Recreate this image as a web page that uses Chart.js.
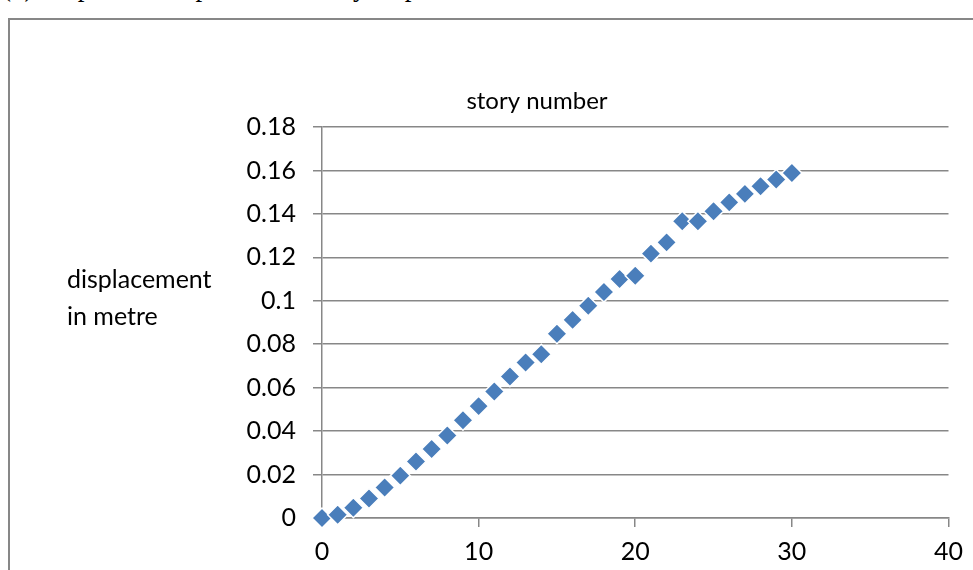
<!DOCTYPE html>
<html>
<head>
<meta charset="utf-8">
<script src="https://cdn.jsdelivr.net/npm/chart.js@4"></script>
<style>
  html, body { margin: 0; padding: 0; background: #fff; overflow: hidden; }
  body { width: 973px; height: 570px; position: relative; }
  #caption {
    position: absolute; left: 2px; top: -28px; white-space: nowrap;
    font-family: "Liberation Serif", "Times New Roman", serif; font-size: 27px; color: #000;
  }
  #frame {
    position: absolute; left: 8px; top: 18px; width: 1200px; height: 800px;
    border: 2px solid #878787; box-sizing: border-box;
  }
  #wrap { position: absolute; left: 0; top: 0; width: 973px; height: 570px; }
</style>
</head>
<body>
<div id="caption">(b) Displacement profile for story displacement</div>
<div id="frame"></div>
<div id="wrap"><canvas id="chart" width="973" height="570"></canvas></div>
<script>
// story number (x) and lateral displacement in metres (y)
const storyNumbers = [0, 1, 2, 3, 4, 5, 6, 7, 8, 9, 10, 11, 12, 13, 14, 15,
                      16, 17, 18, 19, 20, 21, 22, 23, 24, 25, 26, 27, 28, 29, 30];
const displacements = [0, 0.0015, 0.0047, 0.009, 0.014, 0.0195, 0.026, 0.0318, 0.038, 0.045, 0.0515,
                       0.0582, 0.0651, 0.0716, 0.0754, 0.0848, 0.0912, 0.0977, 0.104, 0.110, 0.1115,
                       0.1217, 0.1269, 0.1366, 0.1366, 0.1412, 0.1453, 0.1492, 0.1527, 0.1558, 0.1588];
const xTicks = [0, 10, 20, 30, 40];
const yTicks = [0, 0.02, 0.04, 0.06, 0.08, 0.1, 0.12, 0.14, 0.16, 0.18];

const chartTitle = 'story number';
const yAxisTitle = ['displacement', 'in metre'];

const FONT = 'Lato, "Open Sans", sans-serif';
const AXIS_GREY = '#878787';

const points = storyNumbers.map((s, i) => ({ x: s, y: displacements[i] }));

// free-standing labels: horizontal y-axis title and the chart title
const labelsPlugin = {
  id: 'freeLabels',
  afterDraw(chart) {
    const ctx = chart.ctx;
    ctx.save();
    ctx.fillStyle = '#000';
    ctx.font = '25px ' + FONT;
    ctx.textAlign = 'left';
    ctx.textBaseline = 'alphabetic';
    ctx.fillText(yAxisTitle[0], 67, 288);
    ctx.fillText(yAxisTitle[1], 67, 325);
    ctx.textAlign = 'center';
    ctx.font = '24px ' + FONT;
    ctx.fillText(chartTitle, 537, 109);
    ctx.restore();
  }
};

new Chart(document.getElementById('chart'), {
  type: 'scatter',
  data: {
    datasets: [{
      data: points,
      pointStyle: 'rectRot',
      pointRadius: 10,
      pointHoverRadius: 10,
      backgroundColor: '#4a7ebb',
      borderColor: '#ffffff',
      borderWidth: 1.5,
      clip: false
    }]
  },
  options: {
    responsive: false,
    animation: false,
    events: [],
    layout: { padding: { left: 0, top: 127, right: 24, bottom: 0 } },
    plugins: { legend: { display: false }, tooltip: { enabled: false }, title: { display: false } },
    scales: {
      x: {
        type: 'linear',
        min: 0, max: 40,
        afterBuildTicks(scale) { scale.ticks = xTicks.map(v => ({ value: v })); },
        afterFit(scale) { scale.height = 52; },
        grid: { drawOnChartArea: false, drawTicks: true, tickLength: 9, color: AXIS_GREY, lineWidth: 1.5 },
        border: { display: true, color: AXIS_GREY, width: 1.5 },
        ticks: { color: '#000', font: { family: FONT, size: 25 }, padding: 10, maxRotation: 0 }
      },
      y: {
        type: 'linear',
        min: 0, max: 0.18,
        afterBuildTicks(scale) { scale.ticks = yTicks.map(v => ({ value: v })); },
        afterFit(scale) { scale.width = 322; },
        grid: { drawOnChartArea: true, drawTicks: true, tickLength: 9, color: AXIS_GREY, lineWidth: 1.5 },
        border: { display: true, color: AXIS_GREY, width: 1.5 },
        ticks: {
          color: '#000', font: { family: FONT, size: 25 }, padding: 17,
          callback: v => String(Math.round(v * 100) / 100)
        }
      }
    }
  },
  plugins: [labelsPlugin]
});
</script>
</body>
</html>
